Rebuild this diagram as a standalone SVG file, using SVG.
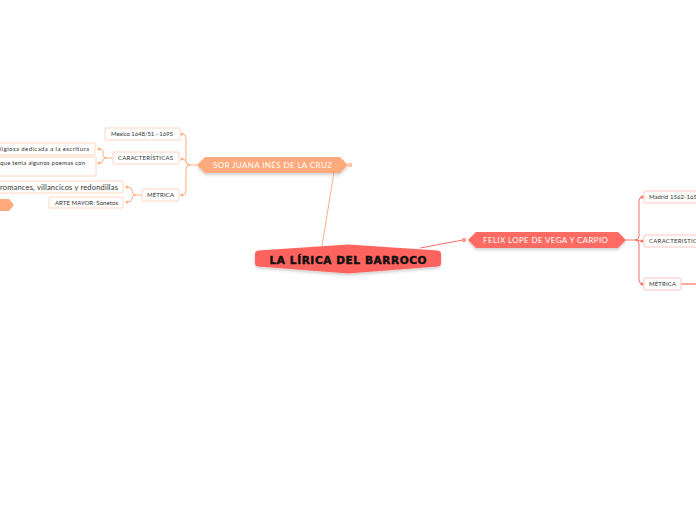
<svg xmlns="http://www.w3.org/2000/svg" width="696" height="520" viewBox="0 0 696 520">
<defs>
<style>
.t{font-family:Lato,"Open Sans","Liberation Sans",sans-serif;fill:#333;font-variant-ligatures:none;}
.s{font-size:6px;}
.m{font-size:7.5px;}
.bo{fill:#fff;stroke:#FFD6C0;stroke-width:1;}
.br{fill:#fff;stroke:#FFC6C3;stroke-width:1;}
.lo{fill:none;stroke:#FFB084;stroke-width:1;}
.lr{fill:none;stroke:#FF6E66;stroke-width:1;}
.do{fill:#FFB084;}
.dr{fill:#FF6E66;}
.mt{font-family:Lato,"Open Sans","Liberation Sans",sans-serif;font-size:8px;fill:#fff;font-variant-ligatures:none;}
</style>
<filter id="sh" x="-10%" y="-30%" width="120%" height="170%">
<feDropShadow dx="0" dy="2" stdDeviation="1.5" flood-color="#000" flood-opacity="0.18"/>
</filter>
</defs>

<g id="connectors">
<line x1="322" y1="246" x2="334" y2="172" class="lo"/>
<line x1="420" y1="248" x2="463" y2="240" class="lr"/>
<path class="lo" d="M197,165 H190 Q186,165 186,161 V138 Q186,134 182,134"/>
<path class="lo" d="M190,165 Q186,165 186,162 Q186,159 182,159"/>
<path class="lo" d="M190,165 Q186,165 186,169 V191 Q186,195 182,195"/>
<circle class="do" cx="182" cy="134" r="1.5"/>
<circle class="do" cx="182" cy="159" r="1.5"/>
<circle class="do" cx="182" cy="195" r="1.5"/>
<path class="lo" d="M113,158 H107 Q103,158 103,155 V152 Q103,149 100,149"/>
<path class="lo" d="M107,158 Q103,158 103,160 Q103,163 100,163"/>
<circle class="do" cx="99" cy="149" r="1.5"/>
<circle class="do" cx="99" cy="163" r="1.5"/>
<path class="lo" d="M142,195 H136 Q132,195 132,191 Q132,187 128,187"/>
<path class="lo" d="M136,195 Q132,195 132,198 Q132,202 128,202"/>
<circle class="do" cx="127" cy="187" r="1.5"/>
<circle class="do" cx="127" cy="202" r="1.5"/>
<path class="lr" d="M626,240 H635 Q639,240 639,236 V201 Q639,197 643,197"/>
<path class="lr" d="M635,240 Q639,240 639,241 Q639,241 643,241"/>
<path class="lr" d="M635,240 Q639,240 639,244 V280 Q639,284 643,284"/>
<circle class="dr" cx="642" cy="197" r="1.5"/>
<circle class="dr" cx="642" cy="241" r="1.5"/>
<circle class="dr" cx="642" cy="284" r="1.5"/>
<line x1="681" y1="284" x2="696" y2="284" stroke="#FF8C86" stroke-width="1.5"/>
</g>

<g id="central">
<path d="M258,250.5 L348,244.5 L438,250.5 Q441,251 441,254 V263 Q441,266 438,266.5 L348,273.5 L258,266.5 Q255,266 255,263 V254 Q255,251 258,250.5 Z" fill="#FF645E" filter="url(#sh)"/>
<text x="348" y="263.5" text-anchor="middle" font-family="'DejaVu Sans',Verdana,sans-serif" font-weight="bold" font-size="10.5" fill="#111" stroke="#111" stroke-width="0.5" textLength="157" lengthAdjust="spacing">LA LÍRICA DEL BARROCO</text>
</g>

<g id="sorjuana">
<path d="M197,165 L205,157 H340 L348,165 L340,173 H205 Z" fill="#FFAA7C" filter="url(#sh)"/>
<circle cx="350" cy="165" r="2.3" fill="#FFC4A3"/>
<text x="272.5" y="168" text-anchor="middle" class="mt" textLength="119" lengthAdjust="spacing">SOR JUANA INÉS DE LA CRUZ</text>
</g>

<g id="mexico">
<rect class="bo" x="105" y="128" width="75" height="12" rx="1"/>
<text class="t s" x="111" y="136.3" textLength="62" lengthAdjust="spacing">Mexico 1648/51 - 1695</text>
</g>
<g id="caracteristicas">
<rect class="bo" x="113" y="152" width="66" height="12" rx="1"/>
<text class="t s" x="118" y="160.3" textLength="55" lengthAdjust="spacing">CARACTERÍSTICAS</text>
</g>
<g id="metrica">
<rect class="bo" x="142" y="189" width="37" height="12" rx="1"/>
<text class="t s" x="147" y="197.3" textLength="27" lengthAdjust="spacing">MÉTRICA</text>
</g>
<g id="religiosa">
<rect class="bo" x="-10" y="143" width="105" height="12" rx="1"/>
<text class="t s" x="0" y="151.3" textLength="89" lengthAdjust="spacing">ligiosa dedicada a la escritura</text>
</g>
<g id="poemas">
<rect class="bo" x="-10" y="157" width="106" height="19" rx="1"/>
<text class="t s" x="0" y="164.5" textLength="85" lengthAdjust="spacing">que tenia algunos poemas con</text>
</g>
<g id="romances">
<rect class="bo" x="-10" y="181" width="133" height="12" rx="1"/>
<text class="t m" x="0" y="190" textLength="118" lengthAdjust="spacing">romances, villancicos y redondillas</text>
</g>
<g id="artemayor">
<rect class="bo" x="49" y="197" width="74" height="11" rx="1"/>
<text class="t s" x="55" y="204.8" textLength="63" lengthAdjust="spacing">ARTE MAYOR: Sonetos</text>
</g>
<g id="left-topic">
<path d="M-5,199 H9 L14,205 L9,211 H-5 Z" fill="#FFAA7C"/>
</g>

<g id="felix">
<path d="M468,240 L476,232 H618 L626,240 L618,248 H476 Z" fill="#FF6A63" filter="url(#sh)"/>
<circle cx="464" cy="240" r="2.3" fill="#FF9C97"/>
<text x="545.5" y="243" text-anchor="middle" class="mt" textLength="125" lengthAdjust="spacing">FELIX LOPE DE VEGA Y CARPIO</text>
</g>
<g id="madrid">
<rect class="br" x="644" y="191" width="70" height="12" rx="1"/>
<text class="t s" x="649" y="199.3" textLength="48" lengthAdjust="spacing">Madrid 1562-165</text>
</g>
<g id="caracteristicas2">
<rect class="br" x="644" y="235" width="70" height="12" rx="1"/>
<text class="t s" x="649" y="243.3" textLength="48" lengthAdjust="spacing">CARACTERISTIC</text>
</g>
<g id="metrica2">
<rect class="br" x="644" y="278" width="37" height="12" rx="1"/>
<text class="t s" x="649" y="286.3" textLength="27" lengthAdjust="spacing">MÉTRICA</text>
</g>
</svg>
